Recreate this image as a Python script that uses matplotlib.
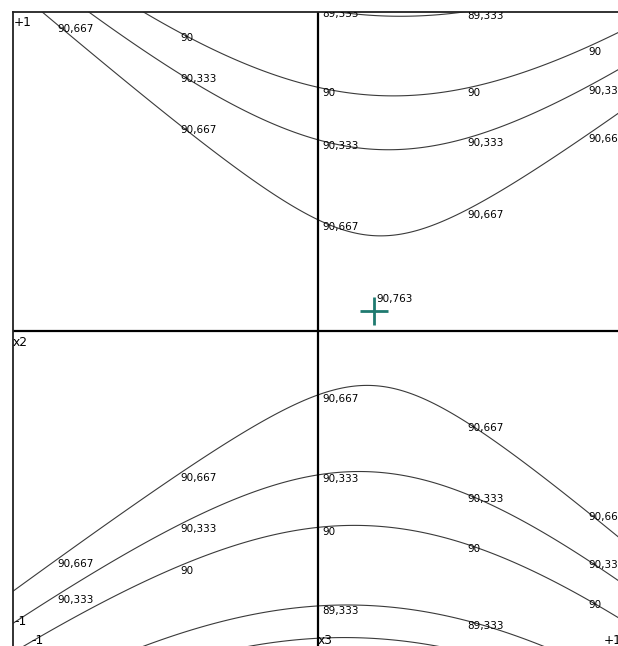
import numpy as np
import matplotlib
matplotlib.use('Agg')
import matplotlib.pyplot as plt

# fitted response surface  f(x3, x2) = b0 + b3*x3 + b2*x2 + b33*x3^2 + b22*x2^2 + b23*x3*x2
b0, b3, b2 = 90.7834, -0.3524, 0.2472
b33, b22, b23 = 0.9949, -1.6658, -0.1883
levels = [89.0, 89.333, 90.0, 90.333, 90.667]
sp_x3, sp_x2, sp_val = 0.183, 0.064, 90.763
corner_labels = ['+1', 'x2', '-1', '-1', 'x3', '+1']

W, H = 618, 646
lab_size = 7.5
plt.rcParams['font.family'] = 'DejaVu Sans'

fig = plt.figure(figsize=(W / 100, H / 100), dpi=100)
fig.patch.set_facecolor('white')
# panel spans px x 13..623, y 12..650 (cropped at the right and bottom)
ax = fig.add_axes([13 / W, (H - 650) / H, 610 / W, 638 / H])
ax.set_xlim(-1, 1)
ax.set_ylim(-1, 1)
ax.set_xticks([])
ax.set_yticks([])
for s in ['right', 'bottom']:
    ax.spines[s].set_visible(False)
for s in ['left', 'top']:
    ax.spines[s].set_linewidth(1.3)
    ax.spines[s].set_color('#222222')

# grid a bit wider than the panel so lines leaving the edge still get labels
u = np.linspace(-1.1, 1.1, 331)
v = np.linspace(-1.1, 1.1, 331)
U, V = np.meshgrid(u, v)
Z = b0 + b3 * U + b2 * V + b33 * U ** 2 + b22 * V ** 2 + b23 * U * V
cs = ax.contour(U, V, Z, levels=levels, colors='#3a3a3a', linewidths=0.8)

ax.axvline(0, color='black', lw=1.6)
ax.axhline(0, color='black', lw=1.6)

# horizontal labels where each line crosses fixed columns
cols_px = [57, 180, 322, 467, 588]
for lev, segs in zip(levels, cs.allsegs):
    txt = ('%.3f' % lev).rstrip('0').rstrip('.').replace('.', ',')
    for cp in cols_px:
        uc = (cp - 318) / 305.0
        for seg in segs:
            for k in range(len(seg) - 1):
                x0, y0 = seg[k]
                x1, y1 = seg[k + 1]
                if (x0 - uc) * (x1 - uc) <= 0 and x0 != x1:
                    yc = y0 + (y1 - y0) * (uc - x0) / (x1 - x0)
                    keep = -0.93 < yc < 1.04
                    if cp < 100 and yc < -0.88:
                        keep = False
                    if keep:
                        ax.text(uc, yc, txt, ha='left', va='top', fontsize=lab_size,
                                color='black', clip_on=True)
                    break

ax.plot(sp_x3, sp_x2, marker='+', ms=20, mew=2, color='#1f7a70', clip_on=False)
ax.annotate(('%.3f' % sp_val).replace('.', ','), (sp_x3, sp_x2), xytext=(2, 4.5),
            textcoords='offset points', ha='left', va='bottom', fontsize=lab_size)

# corner / axis labels (px position of left, top)
pos = [(14, 16), (13, 336), (14, 615), (31, 634), (318, 634), (604, 634)]
for t, (px, py) in zip(corner_labels, pos):
    fig.text(px / W, 1 - py / H, t, ha='left', va='top', fontsize=lab_size + 1.3)

fig.savefig('out.png', dpi=100, facecolor='white')
